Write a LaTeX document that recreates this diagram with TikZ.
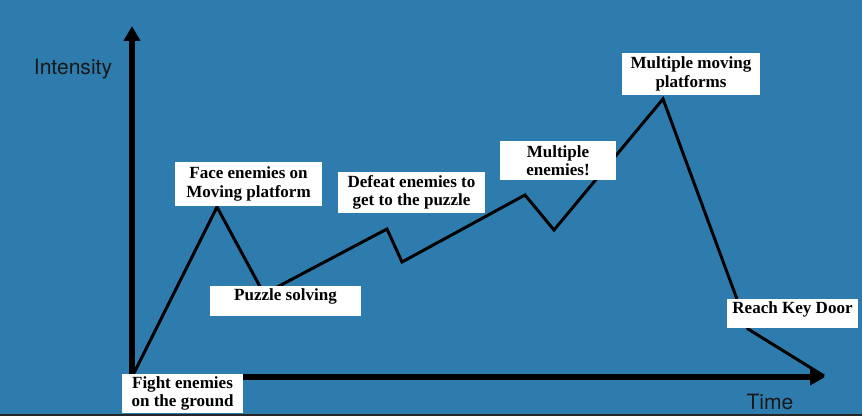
\documentclass[tikz,border=0pt]{standalone}
\usepackage{fontspec}
\setmainfont{Liberation Serif}
\setsansfont{TeX Gyre Heros}
\usetikzlibrary{arrows.meta}
\definecolor{slideblue}{RGB}{46,124,174}

\begin{document}
\begin{tikzpicture}[x=0.02cm,y=-0.02cm,
  axis/.style={line width=0.11cm,{Triangle[length=0.3cm,width=0.32cm]}-{Triangle[length=0.3cm,width=0.32cm]}},
  curve/.style={line width=0.06cm,line join=miter},
  labelbox/.style={fill=white,inner sep=0pt,align=center,font=\fontsize{9.7}{10.4}\selectfont\bfseries},
  axislabel/.style={font=\sffamily\fontsize{12}{12}\selectfont,text=black!90}]
 \useasboundingbox (0,0) rectangle (862,416);
 \fill[slideblue] (0,0) rectangle (862,416);
 \fill[black!85] (0,413.5) rectangle (862,416);
 % axes
 \coordinate (o) at (132,377);
 \coordinate (ytop) at (132,26);
 \coordinate (xend) at (825,377);
 \draw[axis] (ytop) -- (o) -- (xend);
 \node[axislabel] (ylabel) at (73,69.5) {Intensity};
 \node[axislabel] (xlabel) at (770,402) {Time};
 % intensity curve
 \coordinate (p1) at (217,207);
 \coordinate (p2) at (264,294);
 \coordinate (p3) at (387,229);
 \coordinate (p4) at (402,262);
 \coordinate (p5) at (525,195);
 \coordinate (p6) at (554,230);
 \coordinate (p7) at (663,99);
 \coordinate (p8) at (748,329);
 \coordinate (p9) at (824,376);
 \draw[curve] (o) -- (p1) -- (p2) -- (p3) -- (p4) -- (p5) -- (p6) -- (p7) -- (p8) -- (p9);
 % labels
 \node[labelbox,minimum width=2.42cm,minimum height=0.78cm] (ground) at (182.5,393.5) {Fight enemies\\on the ground};
 \node[labelbox,minimum width=2.94cm,minimum height=0.88cm] (moving) at (248.5,184) {Face enemies on\\Moving platform};
 \node[labelbox,minimum width=3.02cm,text height=0.28cm,text depth=0.32cm,anchor=north] (puzzle) at (285.5,286) {Puzzle solving};
 \node[labelbox,minimum width=2.94cm,minimum height=0.82cm] (defeat) at (411.5,192.5) {Defeat enemies to\\get to the puzzle};
 \node[labelbox,minimum width=2.32cm,minimum height=0.78cm] (multi) at (558,160.5) {Multiple\\enemies!};
 \node[labelbox,minimum width=2.76cm,minimum height=0.84cm] (platforms) at (691,74) {Multiple moving\\platforms};
 \node[labelbox,minimum width=2.62cm,text height=0.28cm,text depth=0.30cm,anchor=north] (door) at (792.5,299) {Reach Key Door};
\end{tikzpicture}
\end{document}
